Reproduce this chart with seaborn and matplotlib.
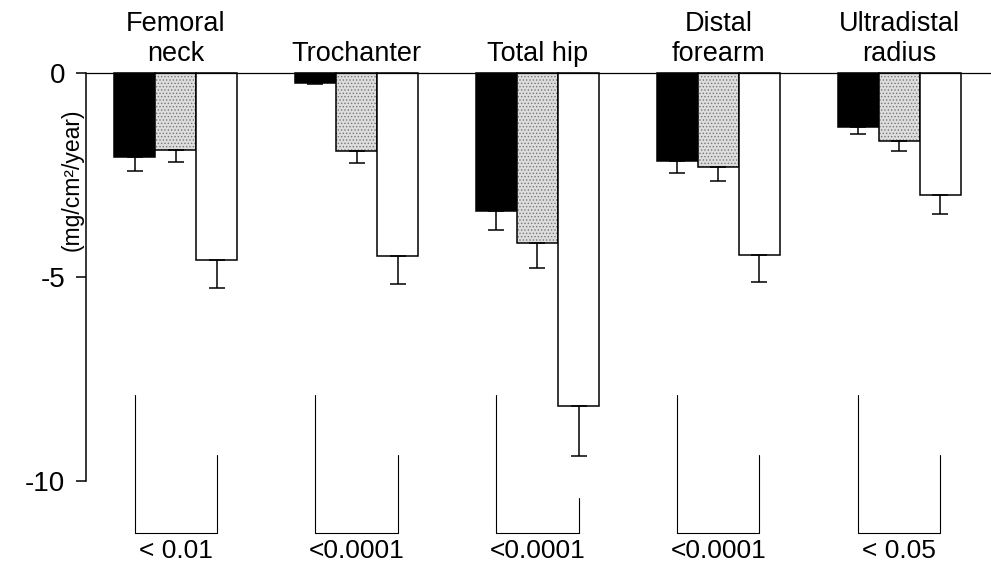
import numpy as np
import pandas as pd
import matplotlib
matplotlib.use("Agg")
import matplotlib.pyplot as plt
from matplotlib.colors import to_rgba
import seaborn as sns

sites = ["Femoral\nneck", "Trochanter", "Total hip", "Distal\nforearm", "Ultradistal\nradius"]
groups = ["A", "B", "C"]

# mean change (mg/cm2/year), one list per group
mean_a = [-2.06, -0.24, -3.38, -2.15, -1.31]
mean_b = [-1.88, -1.91, -4.17, -2.29, -1.66]
mean_c = [-4.59, -4.49, -8.17, -4.45, -3.00]

# standard errors
err_a = [0.34, 0.03, 0.47, 0.31, 0.18]
err_b = [0.29, 0.30, 0.60, 0.36, 0.25]
err_c = [0.68, 0.68, 1.23, 0.68, 0.45]

p_values = ["< 0.01", "<0.0001", "<0.0001", "<0.0001", "< 0.05"]
bracket_left_top = [-7.9, -7.9, -7.9, -7.9, -7.9]
bracket_right_top = [-9.38, -9.38, -10.43, -9.38, -9.38]
bracket_bottom = -11.3

df = pd.DataFrame({
    "site": sites * 3,
    "group": [g for g in groups for _ in sites],
    "change": mean_a + mean_b + mean_c,
    "err": err_a + err_b + err_c,
})

sns.set_style("white")
plt.rcParams["font.family"] = ["Liberation Sans", "DejaVu Sans"]
plt.rcParams["text.color"] = "black"
plt.rcParams["ytick.color"] = "black"
plt.rcParams["ytick.labelcolor"] = "black"
plt.rcParams["hatch.linewidth"] = 0.6

fig = plt.figure(figsize=(9.91, 5.62), dpi=100)
ax = fig.add_axes([0, 0, 1, 1])

sns.barplot(data=df, x="site", y="change", hue="group", order=sites, hue_order=groups,
            palette=["black", "#dddddd", "white"], width=0.68, errorbar=None,
            edgecolor="black", linewidth=1.1, legend=False, ax=ax)

# stipple pattern on the middle group
for bar in ax.containers[1]:
    bar.set_hatch(".....")
    bar._hatch_color = to_rgba("#777777")

# one-sided error bars
errs = [err_a, err_b, err_c]
for cont, e in zip(ax.containers, errs):
    xs = [b.get_x() + b.get_width() / 2 for b in cont]
    ys = [b.get_y() + b.get_height() for b in cont]
    ax.errorbar(xs, ys, yerr=[e, np.zeros(len(e))], fmt="none", ecolor="black",
                elinewidth=1.1, capsize=6, capthick=1.1, zorder=3)

ax.set_xlim(-0.97, 4.506)
ax.set_ylim(-12.0, 1.8)
for s in ["top", "right", "bottom"]:
    ax.spines[s].set_visible(False)
ax.spines["left"].set_position(("data", -0.494))
ax.spines["left"].set_bounds(-10, 0)
ax.spines["left"].set_linewidth(1.1)
ax.spines["left"].set_color("black")
ax.axhline(0, xmin=(-0.494 + 0.97) / (4.506 + 0.97), xmax=1, color="black", lw=0.9, zorder=4)

ax.set_yticks([0, -5, -10])
ax.set_yticklabels(["0", "-5", "-10"])
ax.tick_params(axis="y", direction="out", length=7.2, width=1.1, pad=8, labelsize=20,
               left=True)
ax.set_xticks([])
ax.set_xlabel("")
ax.set_ylabel("")

ax.text(-0.574, -2.62, "(mg/cm²/year)", rotation=90, ha="center", va="center", fontsize=16.5)

# site labels above the zero line, brackets and p-values below
black_x = [b.get_x() + b.get_width() / 2 for b in ax.containers[0]]
white_x = [b.get_x() + b.get_width() / 2 for b in ax.containers[2]]
for i, name in enumerate(sites):
    ax.text(i, 0.15, name, ha="center", va="bottom", fontsize=19.5, linespacing=1.2)
    ax.plot([black_x[i], black_x[i], white_x[i], white_x[i]],
            [bracket_left_top[i], bracket_bottom, bracket_bottom, bracket_right_top[i]],
            color="black", lw=0.8)
    ax.text(i, -11.9, p_values[i], ha="center", va="baseline", fontsize=19)

fig.savefig("out.png", dpi=100)
